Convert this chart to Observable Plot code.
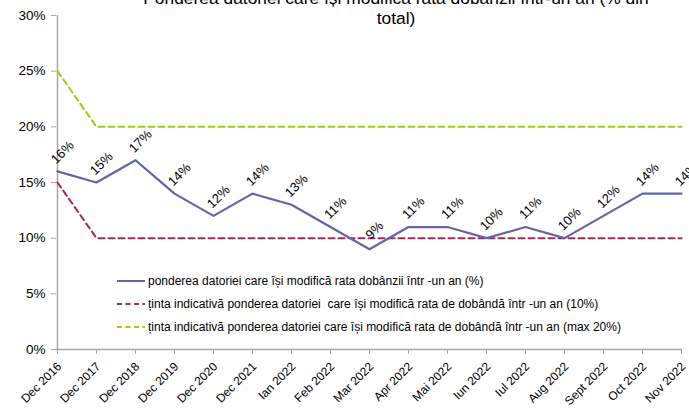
<!DOCTYPE html>
<html>
<head>
<meta charset="utf-8">
<script src="https://cdn.jsdelivr.net/npm/d3@7"></script>
<script src="https://cdn.jsdelivr.net/npm/@observablehq/plot@0.6"></script>
<style>
  html, body { margin: 0; padding: 0; background: #fff; }
  #wrap { position: relative; width: 689px; height: 410px; overflow: hidden; font-family: "Liberation Sans", Arial, sans-serif; }
  .title { position: absolute; font-size: 17.4px; color: #000; white-space: nowrap; transform: translateX(-50%); line-height: 1; }
  #legend { position: absolute; left: 117px; top: 269px; font-size: 12px; color: #000; }
  #legend .row { height: 23px; display: flex; align-items: center; white-space: pre; }
  #legend svg { width: 30px; height: 10px; margin-right: 1px; }
</style>
</head>
<body>
<div id="wrap"></div>
<script>
const categories = ["Dec 2016","Dec 2017","Dec 2018","Dec 2019","Dec 2020","Dec 2021","Ian 2022","Feb 2022","Mar 2022","Apr 2022","Mai 2022","Iun 2022","Iul 2022","Aug 2022","Sept 2022","Oct 2022","Nov 2022"];
const ponderea = [16,15,17,14,12,14,13,11,9,11,11,10,11,10,12,14,14];
const tinta10 = [15,10,10,10,10,10,10,10,10,10,10,10,10,10,10,10,10];
const tinta20 = [25,20,20,20,20,20,20,20,20,20,20,20,20,20,20,20,20];
const yTicks = [0,5,10,15,20,25,30];
const titleLines = ["Ponderea datoriei care își modifică rata dobânzii într-un an (% din", "total)"];
const seriesNames = [
  "ponderea datoriei care își modifică rata dobânzii într -un an (%)",
  "ținta indicativă ponderea datoriei  care își modifică rata de dobândă într -un an (10%)",
  "ținta indicativă ponderea datoriei care își modifică rata de dobândă într -un an (max 20%)"
];
const colors = ["#6465a8", "#a5275f", "#9acd14"];

const rows = categories.map((c, i) => ({cat: c, v: ponderea[i], t10: tinta10[i], t20: tinta20[i]}));
const axisGray = "#a6a6a6";

const chart = Plot.plot({
  width: 689,
  height: 410,
  marginTop: 15,
  marginBottom: 61,
  marginLeft: 56,
  marginRight: 7,
  x: {type: "point", domain: categories, padding: 0, axis: null, label: null},
  y: {domain: [0, 30], axis: null, label: null},
  style: {fontFamily: "'Liberation Sans', Arial, sans-serif", fontSize: "13px", background: "transparent", overflow: "visible"},
  marks: [
    Plot.ruleX([categories[0]], {stroke: axisGray, strokeWidth: 1.5}),
    Plot.ruleY([0], {stroke: axisGray, strokeWidth: 1.5}),
    Plot.axisY({ticks: yTicks, tickFormat: d => d + "%", tickSize: 5, tickPadding: 6, stroke: axisGray, fill: "#000", fontSize: 13.5, label: null}),
    Plot.axisX({tickSize: 5, tickFormat: () => "", stroke: axisGray, label: null}),
    Plot.text(categories, {x: d => d, frameAnchor: "bottom", text: d => d, rotate: -45, textAnchor: "end", lineAnchor: "middle", dy: 15, dx: 2, fontSize: 12, fill: "#000"}),
    Plot.line(rows, {x: "cat", y: "t20", stroke: colors[2], strokeWidth: 2, strokeDasharray: "6,4"}),
    Plot.line(rows, {x: "cat", y: "t10", stroke: colors[1], strokeWidth: 2, strokeDasharray: "6,4"}),
    Plot.line(rows, {x: "cat", y: "v", stroke: colors[0], strokeWidth: 2.2}),
    Plot.text(rows, {x: "cat", y: "v", text: d => d.v + "%", rotate: -45, textAnchor: "middle", lineAnchor: "middle", dx: 5, dy: -19, fontSize: 13, fill: "#000"})
  ]
});

const wrap = document.getElementById("wrap");
wrap.appendChild(chart);

const t1 = document.createElement("div");
t1.className = "title"; t1.textContent = titleLines[0];
t1.style.left = "396px"; t1.style.top = "-10.5px";
wrap.appendChild(t1);
const t2 = document.createElement("div");
t2.className = "title"; t2.textContent = titleLines[1];
t2.style.left = "396px"; t2.style.top = "9.5px";
wrap.appendChild(t2);

const legend = document.createElement("div");
legend.id = "legend";
seriesNames.forEach((name, i) => {
  const row = document.createElement("div");
  row.className = "row";
  const dash = i === 0 ? "" : ' stroke-dasharray="5,3.5"';
  row.innerHTML = `<svg viewBox="0 0 30 10"><line x1="0" x2="28" y1="5" y2="5" stroke="${colors[i]}" stroke-width="2"${dash}/></svg>`;
  const span = document.createElement("span");
  span.textContent = name;
  row.appendChild(span);
  legend.appendChild(row);
});
wrap.appendChild(legend);
</script>
</body>
</html>
